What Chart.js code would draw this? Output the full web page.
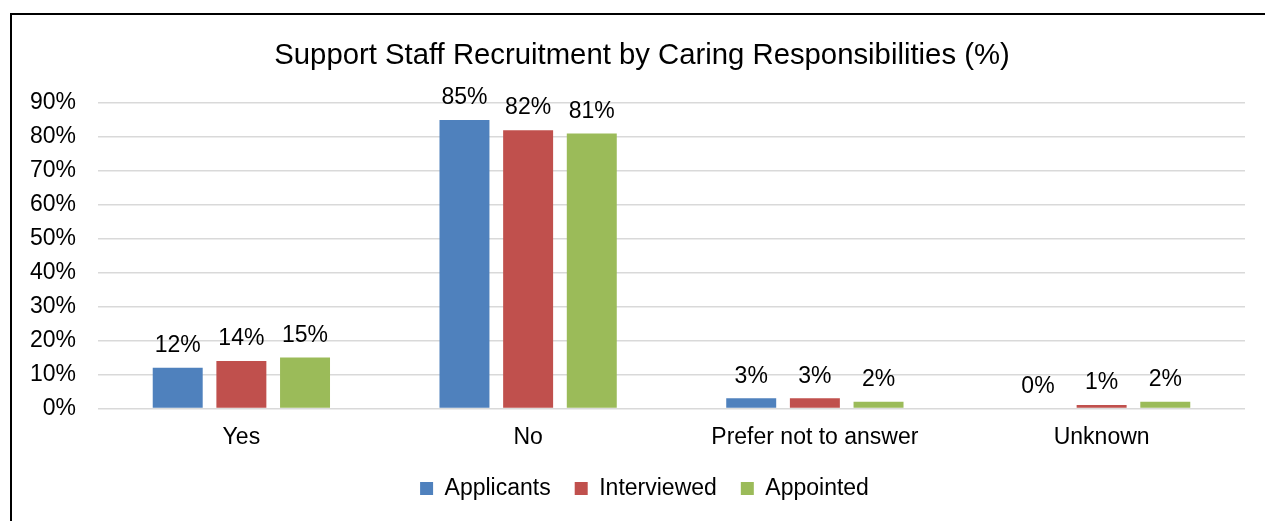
<!DOCTYPE html>
<html>
<head>
<meta charset="utf-8">
<title>Support Staff Recruitment by Caring Responsibilities</title>
<script src="https://cdn.jsdelivr.net/npm/chart.js@4"></script>
<style>
    html, body { margin: 0; padding: 0; background: #fff; overflow: hidden; }
    #wrap { position: relative; width: 1265px; height: 521px; }
    #frame {
        position: absolute; left: 10px; top: 13px; width: 1400px; height: 700px;
        border-left: 2px solid #000; border-top: 2px solid #000; pointer-events: none;
    }
</style>
</head>
<body>
<div id="wrap">
    <canvas id="chart" width="1265" height="521"></canvas>
    <div id="frame"></div>
</div>
<script>
// chart data (percent)
var titleText = 'Support Staff Recruitment by Caring Responsibilities (%)';
var categories = ['Yes', 'No', 'Prefer not to answer', 'Unknown'];
var applicants = [12, 85, 3, 0];
var interviewed = [14, 82, 3, 1];
var appointed = [15, 81, 2, 2];
var yTicks = [0, 10, 20, 30, 40, 50, 60, 70, 80, 90];

var FONT = '"Liberation Sans", Arial, sans-serif';

// title centred on the whole chart object, not the canvas padding box
var chartTitle = {
    id: 'chartTitle',
    afterDraw: function(chart) {
        var ctx = chart.ctx;
        ctx.save();
        ctx.font = '29.3px ' + FONT;
        ctx.fillStyle = '#000';
        ctx.textAlign = 'center';
        ctx.textBaseline = 'middle';
        ctx.fillText(titleText, 642, 56);
        ctx.restore();
    }
};

// legend sits a bit right of the padded centre in the original
var legendShift = {
    id: 'legendShift',
    afterLayout: function(chart) {
        if (chart.legend) chart.legend.left += 24;
    }
};

// draws the value above every bar
var barLabels = {
    id: 'barLabels',
    afterDatasetsDraw: function(chart) {
        var ctx = chart.ctx;
        ctx.save();
        ctx.font = '23px ' + FONT;
        ctx.fillStyle = '#000';
        ctx.textAlign = 'center';
        ctx.textBaseline = 'middle';
        chart.data.datasets.forEach(function(ds, i) {
            chart.getDatasetMeta(i).data.forEach(function(bar, j) {
                ctx.fillText(ds.data[j] + '%', bar.x, bar.y - 22);
            });
        });
        ctx.restore();
    }
};

new Chart(document.getElementById('chart').getContext('2d'), {
    type: 'bar',
    data: {
        labels: categories,
        datasets: [
            { label: 'Applicants', data: applicants, backgroundColor: '#4F81BD' },
            { label: 'Interviewed', data: interviewed, backgroundColor: '#C0504D' },
            { label: 'Appointed', data: appointed, backgroundColor: '#9BBB59' }
        ]
    },
    options: {
        responsive: false,
        animation: false,
        devicePixelRatio: 1,
        categoryPercentage: 0.666,
        barPercentage: 0.785,
        layout: { padding: { left: 20, right: 20, top: 103, bottom: 11 } },
        plugins: {
            title: { display: false },
            legend: {
                position: 'bottom',
                labels: {
                    color: '#000',
                    font: { family: FONT, size: 23 },
                    boxWidth: 13,
                    boxHeight: 13,
                    padding: 24
                }
            },
            tooltip: { enabled: false }
        },
        scales: {
            x: {
                grid: { display: false, drawTicks: false },
                border: { display: false },
                ticks: { color: '#000', font: { family: FONT, size: 23 }, padding: 15, maxRotation: 0 },
                afterFit: function(scale) { scale.height = 44.5; }
            },
            y: {
                min: 0,
                max: 90,
                grid: { color: '#d9d9d9', lineWidth: 1.5, drawTicks: false },
                border: { display: false },
                afterBuildTicks: function(scale) {
                    scale.ticks = yTicks.map(function(v) { return { value: v }; });
                },
                ticks: {
                    color: '#000',
                    font: { family: FONT, size: 23 },
                    padding: 22,
                    callback: function(v) { return v + '%'; }
                },
                afterFit: function(scale) { scale.width = 78; }
            }
        }
    },
    plugins: [barLabels, chartTitle, legendShift]
});
</script>
</body>
</html>
